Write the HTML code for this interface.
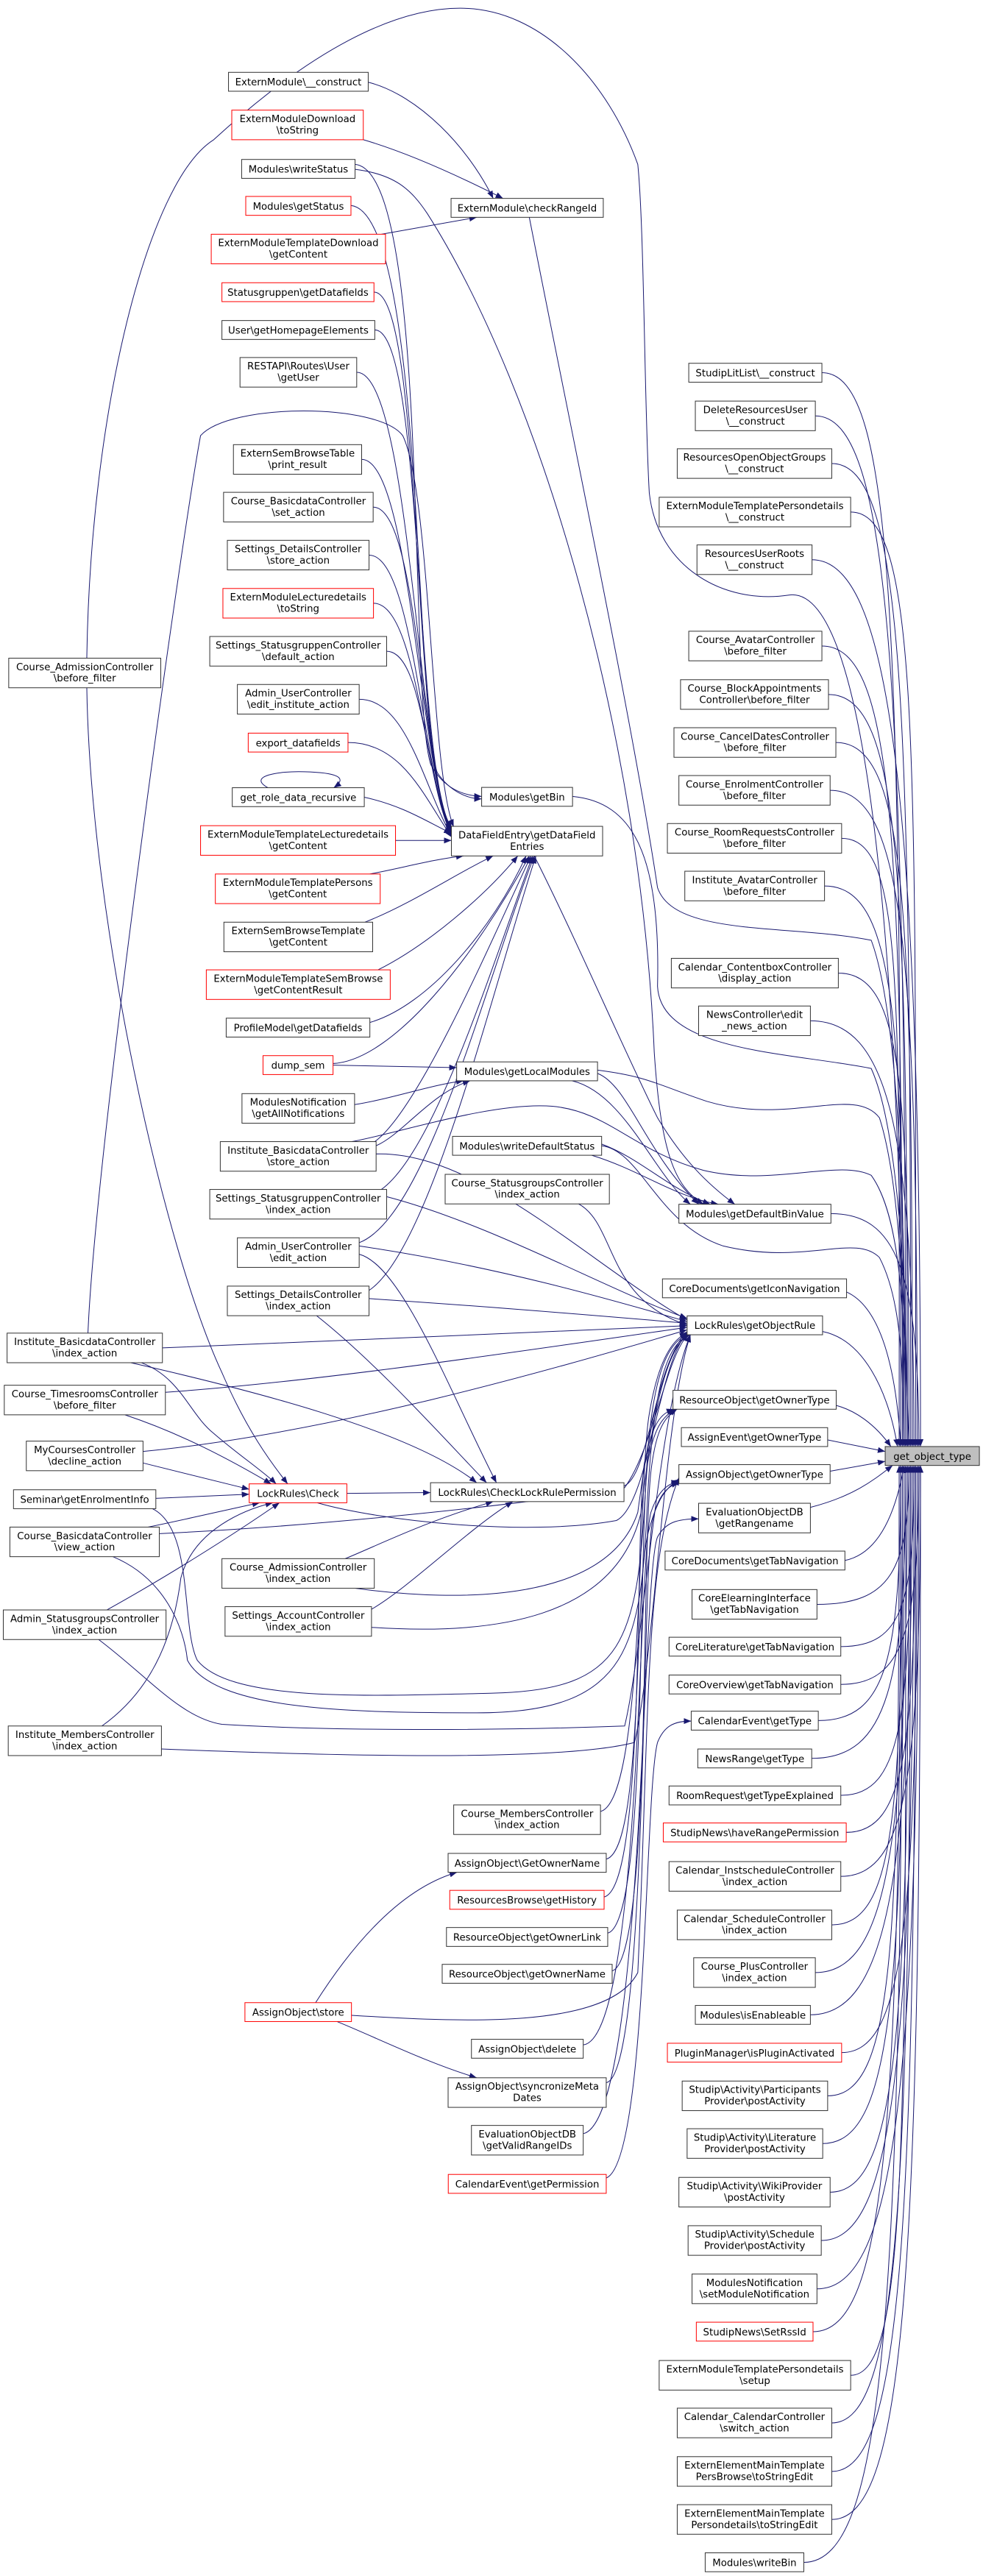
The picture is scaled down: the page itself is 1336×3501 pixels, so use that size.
<!DOCTYPE html>
<html><head><meta charset="utf-8"><style>
html,body{margin:0;padding:0;background:#fff;}
svg{display:block;}
.n rect{fill:#fff;stroke:#333;stroke-width:.45}
.n rect.r{stroke:#f00}
.n rect.t{fill:#bfbfbf}
.n text{font-family:"DejaVu Sans","Liberation Sans",sans-serif;font-size:5.95px;text-anchor:middle;fill:#000}
.e path{fill:none;stroke:#191970;stroke-width:.45;marker-end:url(#a)}
</style></head><body>
<svg width="1336" height="3501" viewBox="0 0 598 1567.1" xmlns="http://www.w3.org/2000/svg">
<defs><marker id="a" viewBox="0 0 10 8" refX="10" refY="4" markerWidth="4.5" markerHeight="3.6" markerUnits="userSpaceOnUse" orient="auto"><path d="M0,0L10,4L0,8z" fill="#191970"/></marker></defs>
<g class="e">
<!-- right column to get_object_type -->
<path d="M500,226.7 C545,226.7 548,390 548,880"/>
<path d="M496,253 C541,253 551,410 551,880"/>
<path d="M506,282 C551,282 554,432 554,880"/>
<path d="M517.5,311.5 C560,311.5 557,454 557,880"/>
<path d="M494,340.5 C540,340.5 560,475 560,880"/>
<path d="M500,393 C545,393 549,515 549,880"/>
<path d="M504,422.5 C549,422.5 552,537 552,880"/>
<path d="M508.5,451.7 C553,451.7 555,559 555,880"/>
<path d="M505,480.8 C550,480.8 558,580 558,880"/>
<path d="M512,510 C550,510 547,602 547,880"/>
<path d="M501.6,539 C546,539 550,624 550,880"/>
<path d="M510,592 C550,592 553,664 553,880"/>
<path d="M493,621 C540,621 556,686 556,880"/>
<path d="M505.5,738.3 C545,738.3 559,773 559,880"/>
<path d="M515,786 C535,795 545,830 548,880"/>
<path d="M500.4,810 C525,815 540,845 546,880"/>
<path d="M508.7,855 C520,858 532,866 542,880"/>
<path d="M503.6,876 L538.5,883"/>
<path d="M505,895 L538.5,889"/>
<path d="M493,917 C520,910 532,900 543,891.5"/>
<path d="M514,949.3 C535,945 545,920 550,891.5"/>
<path d="M497,976 C542,976 553,955 553,891.5"/>
<path d="M511.5,1001.7 C550,1001.7 556,974 556,891.5"/>
<path d="M511.5,1024.7 C550,1024.7 559,991 559,891.5"/>
<path d="M497.8,1046.7 C540,1046.7 548,1008 548,891.5"/>
<path d="M493.8,1069.7 C540,1069.7 551,1025 551,891.5"/>
<path d="M511.5,1092.2 C550,1092.2 554,1042 554,891.5"/>
<path d="M514.8,1114.7 C552,1114.7 557,1059 557,891.5"/>
<path d="M511.5,1141.5 C552,1141.5 560,1079 560,891.5"/>
<path d="M506,1171 C545,1171 549,1101 549,891.5"/>
<path d="M496,1200 C540,1200 552,1123 552,891.5"/>
<path d="M493,1225.7 C540,1225.7 555,1142 555,891.5"/>
<path d="M512,1248.7 C552,1248.7 558,1159 558,891.5"/>
<path d="M503.5,1275 C545,1275 547,1179 547,891.5"/>
<path d="M500.5,1304 C545,1304 550,1201 550,891.5"/>
<path d="M505,1333.6 C548,1333.6 553,1223 553,891.5"/>
<path d="M499.6,1363 C545,1363 556,1245 556,891.5"/>
<path d="M497,1392.4 C545,1392.4 559,1267 559,891.5"/>
<path d="M494.6,1418.5 C540,1418.5 548,1287 548,891.5"/>
<path d="M517.5,1445 C552,1445 551,1307 551,891.5"/>
<path d="M506,1474 C548,1474 554,1328 554,891.5"/>
<path d="M506,1503.5 C550,1503.5 557,1350 557,891.5"/>
<path d="M506,1532.7 C552,1532.7 560,1372 560,891.5"/>
<path d="M489,1558.8 C540,1558.8 549,1392 549,891.5"/>
<!-- big arcs / waves into bundle -->
<path d="M52.8,400.4 C55,250 90,110 130,85 C190,30 240,5 280,5 C330,5 370,50 388,100 C392,140 392,250 395,300 C400,345 440,368 480,362 C530,355 548,600 550,880"/>
<path d="M322,132.2 C345,250 385,440 400,540 C410,570 480,562 530,572 C548,620 551,760 551,880"/>
<path d="M348.3,484.5 C385,488 402,520 400,600 C402,640 480,640 530,650 C548,690 552,800 552,880"/>
<path d="M363.5,651 C395,655 400,660 430,670 C480,685 520,660 535,680 C548,720 550,800 553,880"/>
<path d="M214,694.5 C240,690 300,670 336,673 C370,676 385,700 428,712 C470,722 510,705 530,715 C548,740 551,800 551,880"/>
<path d="M366,697 C390,700 400,745 440,758 C490,770 520,750 535,765 C548,790 550,830 549,880"/>
<!-- checkRangeId -->
<path d="M224,50 C255,58 285,90 300,120.7"/>
<path d="M221,85 C245,92 275,105 306,120.7"/>
<path d="M232,142.5 L290,132.2"/>
<!-- getBin -->
<path d="M216,100 C262,104 248,420 262,465 C270,480 282,484 293,484.5"/>
<path d="M213.5,125 C258,130 252,430 266,470 C274,482 285,486 293,486"/>
<!-- writeStatus to getDefaultBinValue -->
<path d="M216,103 C240,106 250,115 260,130 C330,240 390,450 398,640 C402,700 410,722 428,732.6"/>
<!-- to DataFieldEntry -->
<path d="M227.5,177.7 C258,177.7 250,470 275,504"/>
<path d="M228,200.7 C258,200.7 252,470 275,505"/>
<path d="M217,226.5 C250,226.5 254,470 275,506"/>
<path d="M220,279.5 C250,279.5 255,470 275,506.5"/>
<path d="M227,308.5 C255,308.5 256,472 275,507"/>
<path d="M224.5,337.7 C252,337.7 257,474 275,507.5"/>
<path d="M227.2,367 C254,367 258,476 275,508"/>
<path d="M235.2,396.2 C258,396.2 259,478 275,508.5"/>
<path d="M218.5,425.4 C248,425.4 258,480 275,509"/>
<path d="M211.7,451.7 C245,451.7 258,485 275,509.5"/>
<path d="M221.6,485 C245,490 260,500 274.6,507"/>
<path d="M240.6,511.3 L274.6,511.3"/>
<path d="M225,531.7 C245,528 262,523 282,520.7"/>
<path d="M222,561 C250,550 280,530 300,520.7"/>
<path d="M230,590 C260,575 295,545 315,520.7"/>
<path d="M225,622 C260,612 300,565 320,520.7"/>
<path d="M202.6,647 C240,645 290,580 322,520.7"/>
<path d="M228,694.5 C255,675 300,570 323,520.7"/>
<path d="M232,723.6 C265,700 300,585 324,520.7"/>
<path d="M218.5,756 C260,740 296,595 325,520.7"/>
<path d="M224.5,785 C262,760 300,600 326,520.7"/>
<path d="M53.5,811 C58,700 110,330 122,265 C140,245 230,245 245,265 C262,300 262,470 276,503"/>
<path d="M163,479.2 C150,472 170,469 185,469.5 C205,470 212,473 203,479.2"/>
<!-- getLocalModules -->
<path d="M202.6,648 L277.8,649.5"/>
<path d="M215.7,672 C240,668 262,660 282,657.5"/>
<path d="M228.8,697 C245,690 262,665 286,657.5"/>
<!-- getDefaultBinValue -->
<path d="M325,520.7 C350,570 380,640 400,680 C415,705 430,720 447,732.6"/>
<path d="M348,657.5 C380,665 398,715 420,732.6"/>
<path d="M363.5,653 C382,660 392,700 425,732.6"/>
<path d="M366,696 C390,705 405,722 432,732.6"/>
<path d="M360,702.8 C390,712 410,728 437,732.6"/>
<!-- getObjectRule -->
<path d="M352,732.4 C375,745 368,790 418,806"/>
<path d="M228.8,702 C290,700 360,770 418,803"/>
<path d="M235.2,728 C300,745 370,785 418,802"/>
<path d="M218.5,758 C300,770 370,790 418,804"/>
<path d="M224.5,790 C300,795 360,800 418,805"/>
<path d="M98.8,820 C200,816 330,810 418,806.5"/>
<path d="M100.6,847 C200,840 330,820 418,807.5"/>
<path d="M87,883 C200,872 330,835 418,809"/>
<path d="M379.6,904 C395,898 398,830 418,810"/>
<path d="M193,914.2 C230,925 320,935 375,925 C395,915 400,830 418,811"/>
<path d="M96.9,933 C200,928 320,915 380,905 C398,880 405,825 419,811.5"/>
<path d="M216,966.2 C280,975 370,975 388,920 C396,860 405,820 419,812"/>
<path d="M226,990 C300,995 375,985 390,920 C397,860 405,820 419,812"/>
<path d="M92.7,917.8 C118,930 110,990 120,1010 C140,1035 220,1032 300,1030 C380,1028 388,1000 393,900 C396,840 405,815 420,811.5"/>
<path d="M68.7,947 C100,960 112,990 114,1010 C130,1040 210,1042 290,1042 C385,1042 390,1000 394,910 C398,840 406,817 420,812"/>
<path d="M60,997.4 C90,1020 110,1045 135,1049 C200,1053 300,1053 380,1050 C392,1000 400,860 420,812"/>
<path d="M98.2,1064 C200,1068 340,1072 386,1060 C398,1010 404,860 420,812"/>
<path d="M365.3,1102 C392,1095 388,900 395,860 C400,830 408,815 418,811"/>
<!-- LockRules\Check -->
<path d="M52.8,418.4 C55,560 100,760 135,835 C150,870 165,890 175,902.7"/>
<path d="M86,829 C110,838 115,860 130,872 C145,885 160,895 168,902.7"/>
<path d="M76,860.7 C110,872 140,888 165,902.7"/>
<path d="M87,890 L151.6,906"/>
<path d="M94.8,911.5 L151.6,909"/>
<path d="M90,929 C110,925 140,918 158,914.2"/>
<path d="M65,979.4 C100,960 140,935 170,914.2"/>
<path d="M62,1050 C90,1030 105,1000 110,960 C118,930 150,918 166,914.2"/>
<!-- CheckLockRulePermission -->
<path d="M211,908.5 L261.9,908"/>
<path d="M79.5,829 C150,845 250,870 290,902"/>
<path d="M192.6,800.4 C230,830 270,875 296,902"/>
<path d="M218.5,763 C245,770 275,850 302,902"/>
<path d="M210,948.2 C230,940 260,925 300,913.5"/>
<path d="M226,979 C250,965 285,930 312,913.5"/>
<!-- owner types etc -->
<path d="M368.8,1131 C392,1125 385,960 395,930 C400,912 405,905 413,900"/>
<path d="M367.5,1154 C393,1148 386,930 392,890 C397,865 402,860 410,857.2"/>
<path d="M369.7,1176 C394,1170 388,940 394,890 C398,868 403,862 411,857.2"/>
<path d="M372.4,1199 C396,1192 390,950 396,895 C399,870 404,862 412,857.2"/>
<path d="M354.8,1244 C390,1240 388,950 396,920 C400,908 405,903 413,901"/>
<path d="M368.8,1267 C394,1262 390,960 397,925 C400,910 406,904 413,902"/>
<path d="M213.8,1226 C280,1230 370,1235 388,1200 C395,1050 392,950 413,899"/>
<path d="M354.8,1298 C392,1290 390,960 400,935 C405,926 412,924 425,924"/>
<path d="M368.8,1325 C394,1315 392,1090 400,1060 C404,1050 410,1047 420.5,1047"/>
<path d="M192,1218.3 C210,1190 240,1150 278,1139"/>
<path d="M205,1229.8 C230,1240 260,1255 290,1264"/>
</g>
<g class="n">
<!-- target -->
<rect class="t" x="538.5" y="880" width="57.3" height="11.5"/><text x="567.15" y="888">get_object_type</text>
<!-- right column -->
<rect x="419" y="221" width="81" height="11.5"/><text x="459.5" y="229">StudipLitList\__construct</text>
<rect x="423" y="244" width="73" height="18"/><text x="459.5" y="251.3">DeleteResourcesUser</text><text x="459.5" y="258.2">\__construct</text>
<rect x="412" y="273" width="94" height="18"/><text x="459" y="280.3">ResourcesOpenObjectGroups</text><text x="459" y="287.2">\__construct</text>
<rect x="401" y="302.5" width="116.5" height="18"/><text x="459.25" y="309.8">ExternModuleTemplatePersondetails</text><text x="459.25" y="316.7">\__construct</text>
<rect x="424" y="331.5" width="70" height="18"/><text x="459" y="338.8">ResourcesUserRoots</text><text x="459" y="345.7">\__construct</text>
<rect x="419" y="384" width="81" height="18"/><text x="459.5" y="391.3">Course_AvatarController</text><text x="459.5" y="398.2">\before_filter</text>
<rect x="414" y="413.5" width="90" height="18"/><text x="459" y="420.8">Course_BlockAppointments</text><text x="459" y="427.7">Controller\before_filter</text>
<rect x="410" y="442.7" width="98.5" height="18"/><text x="459.25" y="450">Course_CancelDatesController</text><text x="459.25" y="456.9">\before_filter</text>
<rect x="413" y="471.8" width="92" height="18"/><text x="459" y="479.1">Course_EnrolmentController</text><text x="459" y="486">\before_filter</text>
<rect x="406" y="501" width="106" height="18"/><text x="459" y="508.3">Course_RoomRequestsController</text><text x="459" y="515.2">\before_filter</text>
<rect x="416.6" y="530" width="85" height="18"/><text x="459.1" y="537.3">Institute_AvatarController</text><text x="459.1" y="544.2">\before_filter</text>
<rect x="408.4" y="583" width="101.6" height="18"/><text x="459.2" y="590.3">Calendar_ContentboxController</text><text x="459.2" y="597.2">\display_action</text>
<rect x="425" y="612" width="68" height="18"/><text x="459" y="619.3">NewsController\edit</text><text x="459" y="626.2">_news_action</text>
<rect x="413" y="732.6" width="92.5" height="11.5"/><text x="459.25" y="740.6">Modules\getDefaultBinValue</text>
<rect x="403" y="778" width="112" height="11.5"/><text x="459" y="786">CoreDocuments\getIconNavigation</text>
<rect x="418" y="800.5" width="82.4" height="11.5"/><text x="459.2" y="808.5">LockRules\getObjectRule</text>
<rect x="409.4" y="845.8" width="99.3" height="11.5"/><text x="459" y="853.8">ResourceObject\getOwnerType</text>
<rect x="414.5" y="868.5" width="89" height="11.5"/><text x="459" y="876.5">AssignEvent\getOwnerType</text>
<rect x="413" y="891" width="92" height="11.5"/><text x="459" y="899">AssignObject\getOwnerType</text>
<rect x="425" y="914.5" width="68" height="18"/><text x="459" y="921.8">EvaluationObjectDB</text><text x="459" y="928.7">\getRangename</text>
<rect x="404.6" y="943.6" width="109.4" height="11.5"/><text x="459.3" y="951.6">CoreDocuments\getTabNavigation</text>
<rect x="421" y="967" width="76" height="18"/><text x="459" y="974.3">CoreElearningInterface</text><text x="459" y="981.2">\getTabNavigation</text>
<rect x="407" y="996" width="104.5" height="11.5"/><text x="459.25" y="1004">CoreLiterature\getTabNavigation</text>
<rect x="407" y="1019" width="104.5" height="11.5"/><text x="459.25" y="1027">CoreOverview\getTabNavigation</text>
<rect x="420.5" y="1041" width="77.3" height="11.5"/><text x="459.15" y="1049">CalendarEvent\getType</text>
<rect x="424.5" y="1064" width="69.3" height="11.5"/><text x="459.15" y="1072">NewsRange\getType</text>
<rect x="407" y="1086.5" width="104.5" height="11.5"/><text x="459.25" y="1094.5">RoomRequest\getTypeExplained</text>
<rect class="r" x="403.5" y="1109" width="111.3" height="11.5"/><text x="459.15" y="1117">StudipNews\haveRangePermission</text>
<rect x="407" y="1132.5" width="104.5" height="18"/><text x="459.25" y="1139.8">Calendar_InstscheduleController</text><text x="459.25" y="1146.7">\index_action</text>
<rect x="412" y="1162" width="94" height="18"/><text x="459" y="1169.3">Calendar_ScheduleController</text><text x="459" y="1176.2">\index_action</text>
<rect x="422" y="1191" width="74" height="18"/><text x="459" y="1198.3">Course_PlusController</text><text x="459" y="1205.2">\index_action</text>
<rect x="423" y="1220" width="70" height="11.5"/><text x="458" y="1228">Modules\isEnableable</text>
<rect class="r" x="406" y="1243" width="106" height="11.5"/><text x="459" y="1251">PluginManager\isPluginActivated</text>
<rect x="415" y="1266" width="88.5" height="18"/><text x="459.25" y="1273.3">Studip\Activity\Participants</text><text x="459.25" y="1280.2">Provider\postActivity</text>
<rect x="418" y="1295" width="82.5" height="18"/><text x="459.25" y="1302.3">Studip\Activity\Literature</text><text x="459.25" y="1309.2">Provider\postActivity</text>
<rect x="413" y="1324.6" width="92" height="18"/><text x="459" y="1331.9">Studip\Activity\WikiProvider</text><text x="459" y="1338.8">\postActivity</text>
<rect x="418.6" y="1354" width="81" height="18"/><text x="459.1" y="1361.3">Studip\Activity\Schedule</text><text x="459.1" y="1368.2">Provider\postActivity</text>
<rect x="421" y="1383.4" width="76" height="18"/><text x="459" y="1390.7">ModulesNotification</text><text x="459" y="1397.6">\setModuleNotification</text>
<rect class="r" x="423.6" y="1412.7" width="71" height="11.5"/><text x="459.1" y="1420.7">StudipNews\SetRssId</text>
<rect x="401" y="1436" width="116.5" height="18"/><text x="459.25" y="1443.3">ExternModuleTemplatePersondetails</text><text x="459.25" y="1450.2">\setup</text>
<rect x="412" y="1465" width="94" height="18"/><text x="459" y="1472.3">Calendar_CalendarController</text><text x="459" y="1479.2">\switch_action</text>
<rect x="412" y="1494.5" width="94" height="18"/><text x="459" y="1501.8">ExternElementMainTemplate</text><text x="459" y="1508.7">PersBrowse\toStringEdit</text>
<rect x="412" y="1523.7" width="94" height="18"/><text x="459" y="1531">ExternElementMainTemplate</text><text x="459" y="1537.9">Persondetails\toStringEdit</text>
<rect x="429" y="1553" width="60" height="11.5"/><text x="459" y="1561">Modules\writeBin</text>
<!-- middle column -->
<rect x="274.4" y="120.7" width="92.6" height="11.5"/><text x="320.7" y="128.7">ExternModule\checkRangeId</text>
<rect x="293" y="479" width="55.3" height="11.5"/><text x="320.65" y="487">Modules\getBin</text>
<rect x="274.6" y="502.7" width="92" height="18"/><text x="320.6" y="510">DataFieldEntry\getDataField</text><text x="320.6" y="516.9">Entries</text>
<rect x="277.8" y="646" width="85.7" height="11.5"/><text x="320.65" y="654">Modules\getLocalModules</text>
<rect x="275.3" y="691.3" width="90.7" height="11.5"/><text x="320.65" y="699.3">Modules\writeDefaultStatus</text>
<rect x="270.8" y="714.4" width="99.9" height="18"/><text x="320.75" y="721.7">Course_StatusgroupsController</text><text x="320.75" y="728.6">\index_action</text>
<rect x="261.9" y="902" width="117.7" height="11.5"/><text x="320.75" y="910">LockRules\CheckLockRulePermission</text>
<rect x="276" y="1098" width="89.3" height="18"/><text x="320.65" y="1105.3">Course_MembersController</text><text x="320.65" y="1112.2">\index_action</text>
<rect x="272.6" y="1127.5" width="96.2" height="11.5"/><text x="320.7" y="1135.5">AssignObject\GetOwnerName</text>
<rect class="r" x="273.6" y="1150" width="93.9" height="11.5"/><text x="320.55" y="1158">ResourcesBrowse\getHistory</text>
<rect x="271.6" y="1172.6" width="98.1" height="11.5"/><text x="320.65" y="1180.6">ResourceObject\getOwnerLink</text>
<rect x="269" y="1195" width="103.4" height="11.5"/><text x="320.7" y="1203">ResourceObject\getOwnerName</text>
<rect x="286.8" y="1240.6" width="68" height="11.5"/><text x="320.8" y="1248.6">AssignObject\delete</text>
<rect x="272.6" y="1264" width="96.2" height="18"/><text x="320.7" y="1271.3">AssignObject\syncronizeMeta</text><text x="320.7" y="1278.2">Dates</text>
<rect x="286.8" y="1293" width="68" height="18"/><text x="320.8" y="1300.3">EvaluationObjectDB</text><text x="320.8" y="1307.2">\getValidRangeIDs</text>
<rect class="r" x="272.7" y="1322.8" width="96.1" height="11.5"/><text x="320.75" y="1330.8">CalendarEvent\getPermission</text>
<!-- mid-left column -->
<rect x="139" y="44" width="85" height="11.5"/><text x="181.5" y="52">ExternModule\__construct</text>
<rect class="r" x="141" y="67" width="80" height="18"/><text x="181" y="74.3">ExternModuleDownload</text><text x="181" y="81.2">\toString</text>
<rect x="147" y="97" width="69" height="11.5"/><text x="181.5" y="105">Modules\writeStatus</text>
<rect class="r" x="149.5" y="119.5" width="64" height="11.5"/><text x="181.5" y="127.5">Modules\getStatus</text>
<rect class="r" x="128.5" y="142.5" width="106" height="18"/><text x="181.5" y="149.8">ExternModuleTemplateDownload</text><text x="181.5" y="156.7">\getContent</text>
<rect class="r" x="135" y="172" width="92.5" height="11.5"/><text x="181.25" y="180">Statusgruppen\getDatafields</text>
<rect x="135" y="195" width="93" height="11.5"/><text x="181.5" y="203">User\getHomepageElements</text>
<rect x="146" y="217.5" width="71" height="18"/><text x="181.5" y="224.8">RESTAPI\Routes\User</text><text x="181.5" y="231.7">\getUser</text>
<rect x="142" y="270.5" width="78" height="18"/><text x="181" y="277.8">ExternSemBrowseTable</text><text x="181" y="284.7">\print_result</text>
<rect x="136" y="299.5" width="91" height="18"/><text x="181.5" y="306.8">Course_BasicdataController</text><text x="181.5" y="313.7">\set_action</text>
<rect x="138.3" y="328.7" width="86.2" height="18"/><text x="181.4" y="336">Settings_DetailsController</text><text x="181.4" y="342.9">\store_action</text>
<rect class="r" x="135.6" y="358" width="91.6" height="18"/><text x="181.4" y="365.3">ExternModuleLecturedetails</text><text x="181.4" y="372.2">\toString</text>
<rect x="127.6" y="387.2" width="107.6" height="18"/><text x="181.4" y="394.5">Settings_StatusgruppenController</text><text x="181.4" y="401.4">\default_action</text>
<rect x="144.4" y="416.4" width="74.1" height="18"/><text x="181.45" y="423.7">Admin_UserController</text><text x="181.45" y="430.6">\edit_institute_action</text>
<rect class="r" x="151" y="446" width="60.7" height="11.5"/><text x="181.35" y="454">export_datafields</text>
<rect x="141.3" y="479.2" width="80.3" height="11.5"/><text x="181.45" y="487.2">get_role_data_recursive</text>
<rect class="r" x="122" y="502.3" width="118.6" height="18"/><text x="181.3" y="509.6">ExternModuleTemplateLecturedetails</text><text x="181.3" y="516.5">\getContent</text>
<rect class="r" x="131" y="531.7" width="100.3" height="18"/><text x="181.15" y="539">ExternModuleTemplatePersons</text><text x="181.15" y="545.9">\getContent</text>
<rect x="136.2" y="561" width="90.5" height="18"/><text x="181.45" y="568.3">ExternSemBrowseTemplate</text><text x="181.45" y="575.2">\getContent</text>
<rect class="r" x="125.5" y="590" width="111.9" height="18"/><text x="181.45" y="597.3">ExternModuleTemplateSemBrowse</text><text x="181.45" y="604.2">\getContentResult</text>
<rect x="137.6" y="619.4" width="87.4" height="11.5"/><text x="181.3" y="627.4">ProfileModel\getDatafields</text>
<rect class="r" x="160" y="642.2" width="42.6" height="11.5"/><text x="181.3" y="650.2">dump_sem</text>
<rect x="147.2" y="665.3" width="68.5" height="18"/><text x="181.45" y="672.6">ModulesNotification</text><text x="181.45" y="679.5">\getAllNotifications</text>
<rect x="134" y="694.5" width="94.8" height="18"/><text x="181.4" y="701.8">Institute_BasicdataController</text><text x="181.4" y="708.7">\store_action</text>
<rect x="127.6" y="723.6" width="107.6" height="18"/><text x="181.4" y="730.9">Settings_StatusgruppenController</text><text x="181.4" y="737.8">\index_action</text>
<rect x="144.4" y="753" width="74.1" height="18"/><text x="181.45" y="760.3">Admin_UserController</text><text x="181.45" y="767.2">\edit_action</text>
<rect x="138.3" y="782.4" width="86.2" height="18"/><text x="181.4" y="789.7">Settings_DetailsController</text><text x="181.4" y="796.6">\index_action</text>
<rect class="r" x="151.6" y="902.7" width="59.4" height="11.5"/><text x="181.3" y="910.7">LockRules\Check</text>
<rect x="135" y="948.2" width="92.7" height="18"/><text x="181.35" y="955.5">Course_AdmissionController</text><text x="181.35" y="962.4">\index_action</text>
<rect x="136.9" y="977.4" width="89.1" height="18"/><text x="181.45" y="984.7">Settings_AccountController</text><text x="181.45" y="991.6">\index_action</text>
<rect class="r" x="149" y="1218.3" width="64.8" height="11.5"/><text x="181.4" y="1226.3">AssignObject\store</text>
<!-- left column -->
<rect x="5.3" y="400.4" width="92.5" height="18"/><text x="51.55" y="407.7">Course_AdmissionController</text><text x="51.55" y="414.6">\before_filter</text>
<rect x="4.3" y="811" width="94.5" height="18"/><text x="51.55" y="818.3">Institute_BasicdataController</text><text x="51.55" y="825.2">\index_action</text>
<rect x="2.6" y="842.7" width="98" height="18"/><text x="51.6" y="850">Course_TimesroomsController</text><text x="51.6" y="856.9">\before_filter</text>
<rect x="16" y="876.7" width="71" height="18"/><text x="51.5" y="884">MyCoursesController</text><text x="51.5" y="890.9">\decline_action</text>
<rect x="8.2" y="906.3" width="86.6" height="11.5"/><text x="51.5" y="914.3">Seminar\getEnrolmentInfo</text>
<rect x="6" y="929" width="90.9" height="18"/><text x="51.45" y="936.3">Course_BasicdataController</text><text x="51.45" y="943.2">\view_action</text>
<rect x="2" y="979.4" width="99" height="18"/><text x="51.5" y="986.7">Admin_StatusgroupsController</text><text x="51.5" y="993.6">\index_action</text>
<rect x="5" y="1050" width="93.2" height="18"/><text x="51.6" y="1057.3">Institute_MembersController</text><text x="51.6" y="1064.2">\index_action</text>
</g>
</svg>
</body></html>
